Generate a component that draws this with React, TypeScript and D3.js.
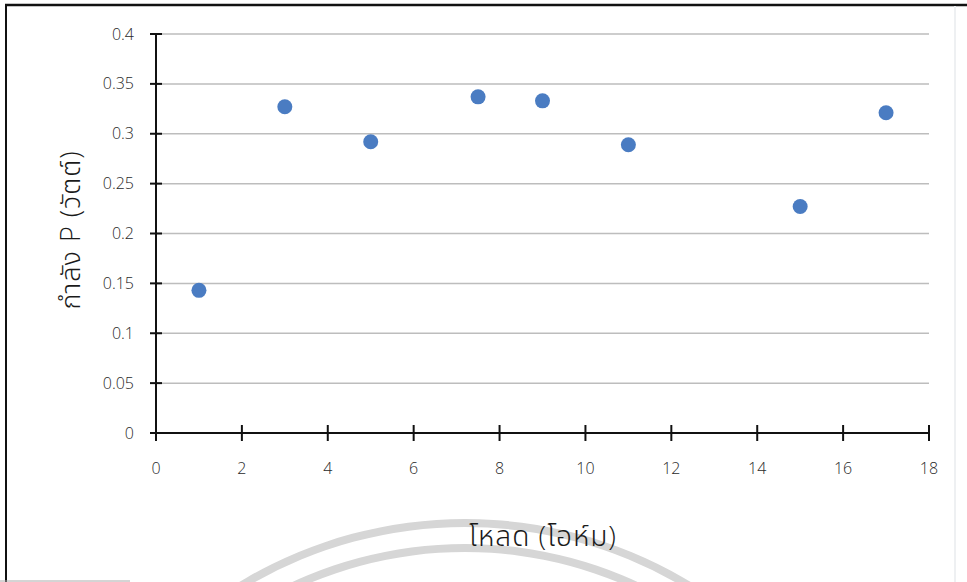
import React from "react";
import * as d3 from "d3";

const loads = [1, 3, 5, 7.5, 9, 11, 15, 17];
const powers = [0.143, 0.327, 0.292, 0.337, 0.333, 0.289, 0.227, 0.321];
const xTicks = [0, 2, 4, 6, 8, 10, 12, 14, 16, 18];
const yTicks = [0, 0.05, 0.1, 0.15, 0.2, 0.25, 0.3, 0.35, 0.4];
const xTitle = "โหลด (โอห์ม)";
const yTitle = "กำลัง P (วัตต์)";

const W = 967;
const H = 582;

export default function App() {
  const x = d3.scaleLinear().domain([0, 18]).range([156, 929]);
  const y = d3.scaleLinear().domain([0, 0.4]).range([433, 34]);
  const font = "'Open Sans', 'Noto Sans', 'Noto Sans Thai', Loma, Garuda, 'DejaVu Sans', sans-serif";
  const arc = d3.arc();
  const cx = 465;
  const cy = 955;
  const outer = arc({ innerRadius: 428, outerRadius: 436, startAngle: -Math.PI / 3, endAngle: Math.PI / 3 } as any) || "";
  const inner = arc({ innerRadius: 403, outerRadius: 411, startAngle: -Math.PI / 3, endAngle: Math.PI / 3 } as any) || "";

  return (
    <svg width={W} height={H} style={{ position: "absolute", left: 0, top: 0, display: "block", background: "#fff" }}>
      <rect x={0} y={0} width={W} height={H} fill="#fff" />
      {/* watermark arcs */}
      <g transform={`translate(${cx},${cy})`} fill="#d6d6d6">
        <path d={outer} />
        <path d={inner} />
      </g>
      {/* frame */}
      <line x1={6} y1={5} x2={6} y2={582} stroke="#111" strokeWidth={2} />
      <line x1={5} y1={5} x2={967} y2={5} stroke="#111" strokeWidth={2.5} />
      <line x1={955} y1={6} x2={955} y2={582} stroke="#eef0f2" strokeWidth={2} />
      <line x1={0} y1={581} x2={130} y2={581} stroke="#aaa" strokeWidth={1} />

      {/* gridlines */}
      {yTicks.filter((t) => t > 0).map((t) => (
        <line key={"g" + t} x1={x(0)} x2={x(18)} y1={y(t)} y2={y(t)} stroke="#bdbdbd" strokeWidth={1.5} />
      ))}

      {/* y axis */}
      <line x1={x(0)} x2={x(0)} y1={y(0.4)} y2={y(0) + 8} stroke="#111" strokeWidth={2} />
      {yTicks.map((t) => (
        <g key={"y" + t}>
          <line x1={x(0) - 6} x2={x(0) + 6} y1={y(t)} y2={y(t)} stroke="#111" strokeWidth={2} />
          <text x={134} y={y(t)} dy="0.35em" textAnchor="end" fontFamily={font} fontWeight={300} fontSize={16} fill="#2a2a2a">
            {String(t)}
          </text>
        </g>
      ))}

      {/* x axis */}
      <line x1={x(0) - 6} x2={x(18)} y1={y(0)} y2={y(0)} stroke="#111" strokeWidth={2} />
      {xTicks.map((t) => (
        <g key={"x" + t}>
          <line x1={x(t)} x2={x(t)} y1={y(0) - 8} y2={y(0) + 8} stroke="#111" strokeWidth={2} />
          <text x={x(t)} y={468} dy="0.35em" textAnchor="middle" fontFamily={font} fontWeight={300} fontSize={16} fill="#2a2a2a">
            {String(t)}
          </text>
        </g>
      ))}

      {/* points */}
      {loads.map((l, i) => (
        <circle key={"p" + i} cx={x(l)} cy={y(powers[i])} r={7.5} fill="#4a7cc2" />
      ))}

      {/* titles */}
      <text x={543} y={546} textAnchor="middle" fontFamily={font} fontWeight={300} fontSize={28} letterSpacing={1} fill="#1a1a1a">
        {xTitle}
      </text>
      <text
        transform={`translate(80,230) rotate(-90)`}
        textAnchor="middle"
        fontFamily={font}
        fontWeight={300}
        fontSize={27}
        letterSpacing={1}
        fill="#1a1a1a"
      >
        {yTitle}
      </text>
    </svg>
  );
}
